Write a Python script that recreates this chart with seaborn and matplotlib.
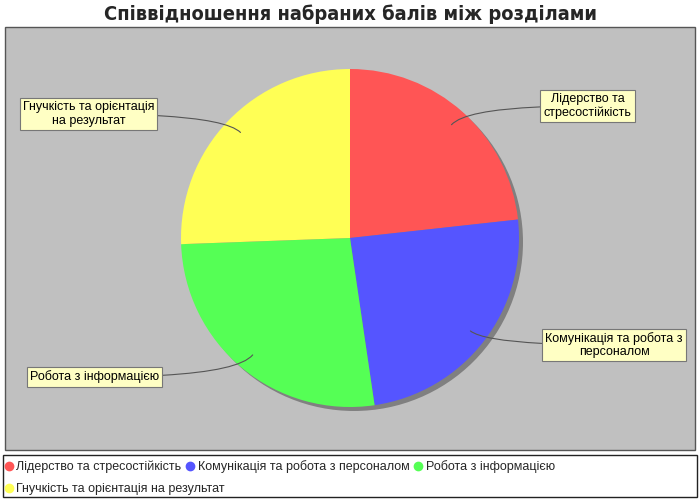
import numpy as np
import matplotlib.pyplot as plt
import seaborn as sns
from matplotlib.patches import Rectangle, Circle
from matplotlib.lines import Line2D

# ---- data ----
title = 'Співвідношення набраних балів між розділами'
sections = [
    'Лідерство та стресостійкість',
    'Комунікація та робота з персоналом',
    'Робота з інформацією',
    'Гнучкість та орієнтація на результат',
]
box_labels = [
    'Лідерство та\nстресостійкість',
    'Комунікація та робота з\nперсоналом',
    'Робота з інформацією',
    'Гнучкість та орієнтація\nна результат',
]
scores = [20, 21, 23, 22]
colors = ['#FF5555', '#5555FF', '#55FF55', '#FFFF55']

# ---- style ----
sns.set_theme(style='white')
plt.rcParams['font.family'] = ['Liberation Sans', 'DejaVu Sans']

fig = plt.figure(figsize=(7, 5), dpi=100)
ax = fig.add_axes([0, 0, 1, 1])
ax.set_axis_off()

# plot area and legend frame (pixel-like coords, y up)
ax.add_patch(Rectangle((5, 50), 690, 423, facecolor='#C0C0C0',
                       edgecolor='#555555', lw=1, zorder=0))
ax.add_patch(Rectangle((3, 3), 694, 42, facecolor='white',
                       edgecolor='#222222', lw=1, zorder=0))

cx, cy, r = 350, 262, 169
# pie shadow
ax.add_patch(Circle((cx + 4, cy - 4), r, facecolor='#808080',
                    edgecolor='none', zorder=1))

wedges, _ = ax.pie(scores, colors=colors, startangle=90, counterclock=False,
                   center=(cx, cy), radius=r, frame=True,
                   wedgeprops=dict(edgecolor='none', linewidth=0))
for w in wedges:
    w.set_zorder(2)

# labels with link curves
label_pos = [(587.5, 394), (614, 155), (94.5, 123), (88.5, 386)]
for w, lab, (tx, ty) in zip(wedges, box_labels, label_pos):
    mid = np.deg2rad((w.theta1 + w.theta2) / 2)
    ax_pt = (cx + 0.9 * r * np.cos(mid), cy + 0.9 * r * np.sin(mid))
    ax.annotate(lab, xy=ax_pt, xytext=(tx, ty), ha='center', va='center',
                fontsize=9, color='black', zorder=5,
                bbox=dict(boxstyle='square,pad=0.25', facecolor='#FFFFC4',
                          edgecolor='#777777', lw=0.8),
                arrowprops=dict(arrowstyle='-', color='#555555', lw=0.8,
                                shrinkA=0, shrinkB=0,
                                connectionstyle=f'angle3,angleA=0,angleB={np.rad2deg(mid):.1f}'))

ax.set_xlim(0, 700)
ax.set_ylim(0, 500)
ax.set_aspect('equal')

ax.text(350, 486, title, ha='center', va='center', fontsize=14.4,
        fontweight='bold', fontstretch='condensed',
        family=['DejaVu Sans', 'Liberation Sans'])

# legend (two rows, flowing)
handles = [Line2D([], [], marker='o', ls='', color=c, markersize=6) for c in colors]
leg1 = ax.legend(handles[:3], sections[:3], loc='center left',
                 bbox_to_anchor=(5, 33), bbox_transform=ax.transData,
                 ncol=3, frameon=False, fontsize=9, borderpad=0,
                 handlelength=0.6, handletextpad=0.3, columnspacing=0.4,
                 borderaxespad=0)
ax.add_artist(leg1)
ax.legend(handles[3:], sections[3:], loc='center left',
          bbox_to_anchor=(5, 11), bbox_transform=ax.transData,
          frameon=False, fontsize=9, borderpad=0,
          handlelength=0.6, handletextpad=0.3, borderaxespad=0)

fig.savefig('out.png', dpi=100)
